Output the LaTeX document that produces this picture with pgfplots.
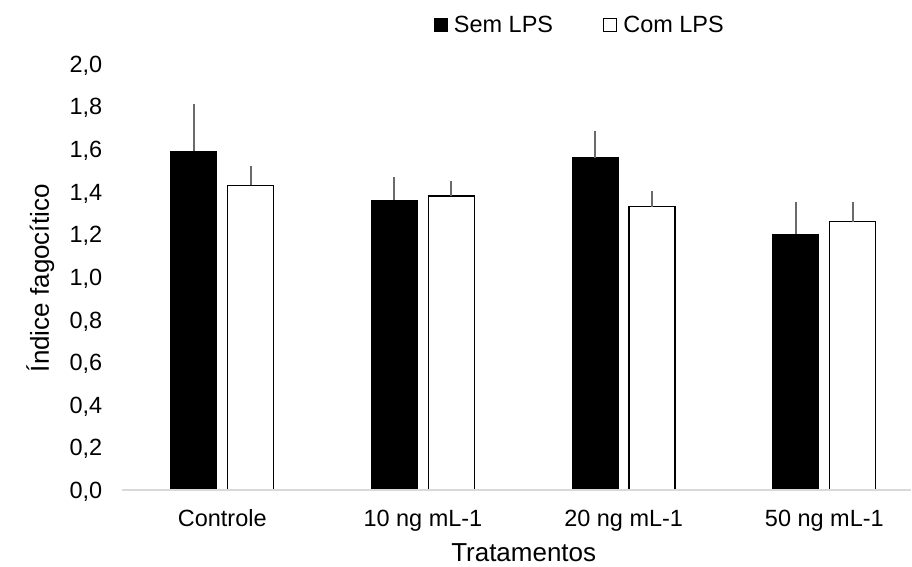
\documentclass[border=0pt]{standalone}
\usepackage{pgfplots}
\pgfplotsset{compat=1.18}
\usepackage{fontspec}
\setmainfont{Liberation Sans}
\usetikzlibrary{calc}
\definecolor{axgray}{HTML}{D9D9D9}
\definecolor{errgray}{HTML}{6A6A6A}
\begin{document}
\begin{tikzpicture}
\begin{axis}[
  name=ax,
  scale only axis,
  axis on top,
  width=790pt, height=426.5pt,
  xmin=-0.5, xmax=3.433,
  ymin=0, ymax=2.0,
  ybar=11pt, bar width=46pt,
  axis x line*=bottom, axis y line*=left,
  x axis line style={draw=axgray, line width=1.5pt},
  y axis line style={draw=none},
  major tick length=0pt,
  xtick={0,1,2,3},
  xticklabels={Controle,10 ng mL-1,20 ng mL-1,50 ng mL-1},
  ytick={0,0.2,0.4,0.6,0.8,1.0,1.2,1.4,1.6,1.8,2.0},
  /pgf/number format/assume math mode=true,
  tick label style={font=\fontsize{23.5}{27}\selectfont, inner sep=0pt},
  yticklabel style={anchor=base east, xshift=-19.5pt, yshift=-8.4pt, /pgf/number format/fixed, /pgf/number format/fixed zerofill, /pgf/number format/precision=1, /pgf/number format/use comma},
  xticklabel style={anchor=north, yshift=-19.5pt},
  xlabel={Tratamentos},
  ylabel={Índice fagocítico},
  every axis x label/.style={at={(axis description cs:0.509,-0.1676)}, anchor=base, inner sep=0pt, font=\fontsize{26}{30}\selectfont},
  every axis y label/.style={at={(axis description cs:-0.0924,0.497)}, rotate=90, anchor=base, inner sep=0pt, font=\fontsize{26}{30}\selectfont},
  legend columns=2,
  legend style={draw=none, fill=none, inner sep=0pt, at={(axis description cs:0.3949,1.0914)}, anchor=west,
    nodes={inner sep=0pt},
    font=\fontsize{23.5}{27}\selectfont, /tikz/every even column/.append style={column sep=50pt}},
  legend image code/.code={\draw[#1, line width=1.3pt] (0pt,-6.5pt) rectangle (13pt,6.5pt); \path (19pt,0pt);},
  error bars/y dir=plus, error bars/y explicit,
  error bars/error mark=none,
  error bars/error bar style={draw=errgray, line width=2pt},
  clip=false,
]
\addplot[fill=black, draw=black, line width=1pt] coordinates {
  (0,1.59) +- (0,0.222)
  (1,1.36) +- (0,0.108)
  (2,1.56) +- (0,0.127)
  (3,1.20) +- (0,0.150)
};
\addplot[fill=white, draw=black, line width=1.3pt] coordinates {
  (0,1.43) +- (0,0.092)
  (1,1.38) +- (0,0.070)
  (2,1.33) +- (0,0.075)
  (3,1.26) +- (0,0.091)
};
\legend{Sem LPS,Com LPS}
\end{axis}
\path[use as bounding box] ($(ax.south west)+(-122pt,-76.5pt)$) rectangle ($(ax.north east)+(0pt,64pt)$);
\end{tikzpicture}
\end{document}
